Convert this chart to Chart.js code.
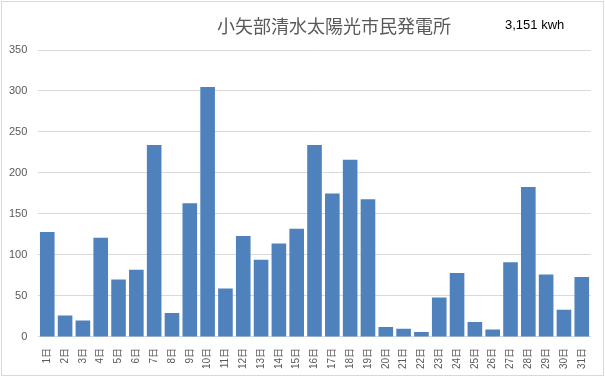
<!DOCTYPE html>
<html>
<head>
<meta charset="utf-8">
<script src="https://cdn.jsdelivr.net/npm/chart.js@4/dist/chart.umd.min.js"></script>
<style>
  html, body { margin: 0; padding: 0; background: #ffffff; }
  #wrap { position: relative; width: 605px; height: 378px; }
  canvas { display: block; }
</style>
</head>
<body>
<div id="wrap"><canvas id="c" width="605" height="378"></canvas></div>
<script>
const categories = ["1日","2日","3日","4日","5日","6日","7日","8日","9日","10日","11日","12日","13日","14日","15日","16日","17日","18日","19日","20日","21日","22日","23日","24日","25日","26日","27日","28日","29日","30日","31日"];
const generation = [128,26,20,121,70,82,234,29,163,305,59,123,94,114,132,234,175,216,168,12,10,6,48,78,18,9,91,183,76,33,73];
const yTicks = [0,50,100,150,200,250,300,350];
const chartTitle = "小矢部清水太陽光市民発電所";
const totalLabel = "3,151 kwh";

const decor = {
  id: 'decor',
  beforeDraw(chart) {
    const ctx = chart.ctx;
    ctx.save();
    ctx.fillStyle = '#ffffff';
    ctx.fillRect(0, 0, chart.width, chart.height);
    ctx.strokeStyle = '#d9d9d9';
    ctx.lineWidth = 1;
    ctx.strokeRect(1.5, 1.5, chart.width - 3, chart.height - 4);
    ctx.restore();
  },
  afterDraw(chart) {
    const ctx = chart.ctx;
    ctx.save();
    ctx.textBaseline = 'middle';
    ctx.textAlign = 'center';
    ctx.fillStyle = '#595959';
    ctx.font = '18px "Noto Sans CJK JP"';
    ctx.fillText(chartTitle, 334, 26);
    ctx.textAlign = 'left';
    ctx.fillStyle = '#000000';
    ctx.font = '13px "Liberation Sans"';
    ctx.fillText(totalLabel, 505, 25);
    ctx.restore();
  }
};

new Chart(document.getElementById('c'), {
  type: 'bar',
  data: {
    labels: categories,
    datasets: [{
      data: generation,
      backgroundColor: '#4f81bd',
      borderWidth: 0,
      barPercentage: 0.82,
      categoryPercentage: 1.0
    }]
  },
  options: {
    responsive: false,
    animation: false,
    devicePixelRatio: 1,
    layout: { padding: { top: 50, right: 14, bottom: -2, left: -2 } },
    plugins: {
      legend: { display: false },
      title: { display: false },
      tooltip: { enabled: false }
    },
    scales: {
      x: {
        grid: { display: false, drawTicks: false },
        border: { color: '#d9d9d9', width: 1 },
        ticks: {
          color: '#595959',
          font: { family: '"Liberation Sans", "Noto Sans CJK JP"', size: 10 },
          minRotation: 90,
          maxRotation: 90,
          autoSkip: false,
          padding: 11
        }
      },
      y: {
        min: 0,
        max: 350,
        afterBuildTicks(axis) { axis.ticks = yTicks.map(v => ({ value: v })); },
        grid: { color: '#d9d9d9', drawTicks: false },
        border: { display: false },
        ticks: {
          color: '#595959',
          font: { family: '"Liberation Sans"', size: 11 },
          padding: 11
        }
      }
    }
  },
  plugins: [decor]
});
</script>
</body>
</html>
